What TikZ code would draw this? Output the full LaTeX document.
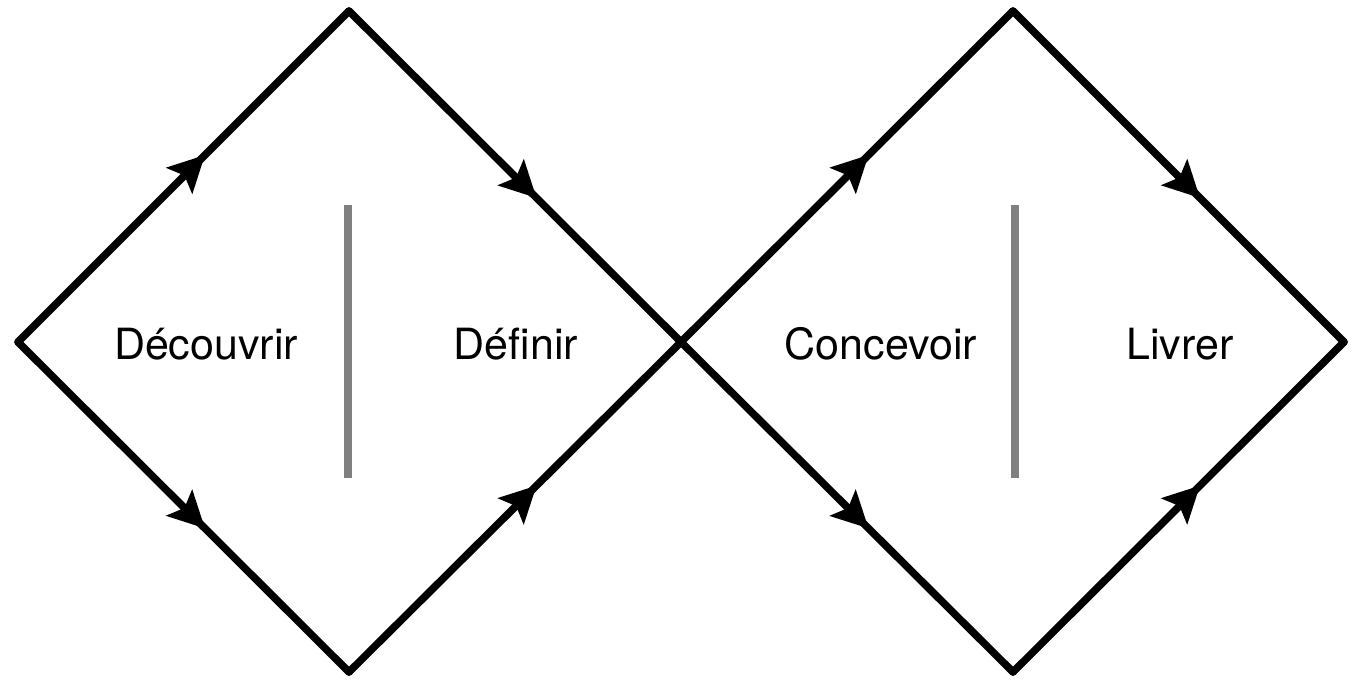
\documentclass[tikz,border=0pt]{standalone}
\usepackage{fontspec}
\setmainfont{TeX Gyre Heros}
\usetikzlibrary{arrows.meta,decorations.markings}
\begin{document}
\begin{tikzpicture}[x=1pt,y=-1pt,
  edge/.style={line width=7.5pt,line cap=round,line join=miter,
    postaction={decorate,decoration={markings,
      mark=at position 0.565 with {\arrow{Stealth[length=36pt,width=36pt,inset=7pt]}}}}},
  divider/.style={line width=7.5pt,color=black!50},
  lab/.style={font=\fontsize{43}{50}\selectfont,inner sep=0pt,anchor=center}]
\useasboundingbox (0,0) rectangle (1355,681);
\coordinate (L1) at (18,342);
\coordinate (T1) at (349,11);
\coordinate (M) at (681,342);
\coordinate (B1) at (349,672);
\coordinate (T2) at (1013,11);
\coordinate (R2) at (1344,342);
\coordinate (B2) at (1013,672);
\draw[edge] (L1) -- (T1);
\draw[edge] (T1) -- (M);
\draw[edge] (L1) -- (B1);
\draw[edge] (B1) -- (M);
\draw[edge] (M) -- (T2);
\draw[edge] (T2) -- (R2);
\draw[edge] (M) -- (B2);
\draw[edge] (B2) -- (R2);
\coordinate (d1a) at (348,205);
\coordinate (d1b) at (348,478);
\coordinate (d2a) at (1015,205);
\coordinate (d2b) at (1015,478);
\draw[divider] (d1a) -- (d1b);
\draw[divider] (d2a) -- (d2b);
\node[lab] (dec) at (206,344) {Découvrir};
\node[lab] (def) at (516,344) {Définir};
\node[lab] (con) at (881,344) {Concevoir};
\node[lab] (liv) at (1180,344) {Livrer};
\end{tikzpicture}
\end{document}
